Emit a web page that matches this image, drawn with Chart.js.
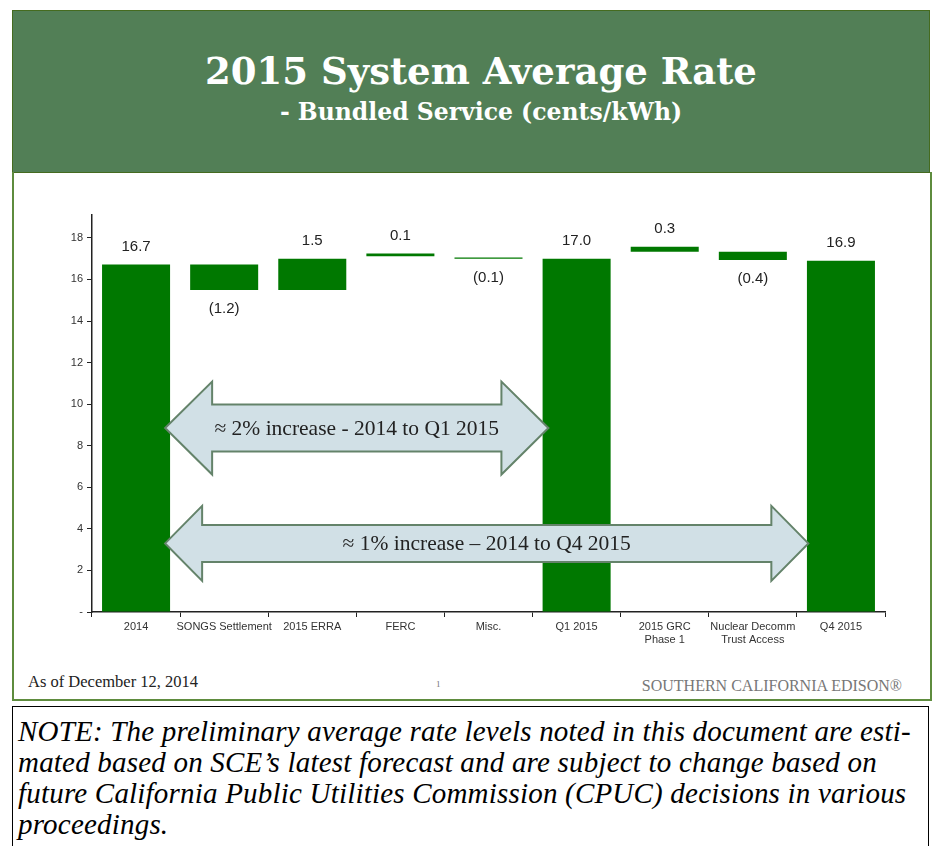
<!DOCTYPE html>
<html>
<head>
<meta charset="utf-8">
<script src="https://cdn.jsdelivr.net/npm/chart.js@4/dist/chart.umd.min.js"></script>
<style>
  body { margin: 0; width: 936px; height: 846px; background: #fff; position: relative; overflow: hidden; }
  #header { position: absolute; left: 12px; top: 10px; width: 916px; height: 161px; background: #527f56;
            border: 1px solid #456b1f; color: #fff; text-align: center; font-family: "DejaVu Serif", serif; font-weight: bold; }
  #title { position: absolute; left: 20px; right: 0; top: 38px; font-size: 37px; }
  #subtitle { position: absolute; left: 20px; right: 0; top: 87px; font-size: 23.5px; }
  #panel { position: absolute; left: 12px; top: 172px; width: 916px; height: 527px; border: 2px solid #5e8c3e; border-top: none; }
  #chart { position: absolute; left: 40px; top: 200px; }
  #asof { position: absolute; left: 28px; top: 672px; font-family: "Liberation Serif", serif; font-size: 16.5px; color: #222; }
  #page { position: absolute; left: 436px; top: 679px; font-family: "Liberation Serif", serif; font-size: 9px; color: #777; }
  #sce { position: absolute; right: 34px; top: 677px; font-family: "Liberation Serif", serif; font-size: 16px; color: #777; }
  #note { position: absolute; left: 12px; top: 706px; width: 917px; height: 160px; border: 1px solid #000;
          font-family: "Liberation Serif", serif; font-style: italic; font-size: 29px; line-height: 31px; letter-spacing: 0.2px;
          color: #000; padding: 9px 0 0 5px; box-sizing: border-box; white-space: nowrap; }
</style>
</head>
<body>
<div id="header">
  <div id="title">2015 System Average Rate</div>
  <div id="subtitle">- Bundled Service (cents/kWh)</div>
</div>
<div id="panel"></div>
<canvas id="chart" width="870" height="460"></canvas>
<div id="asof">As of December 12, 2014</div>
<div id="page">1</div>
<div id="sce">SOUTHERN CALIFORNIA EDISON®</div>
<div id="note">NOTE: The preliminary average rate levels noted in this document are esti-<br>mated based on SCE’s latest forecast and are subject to change based on<br>future California Public Utilities Commission (CPUC) decisions in various<br>proceedings.</div>

<script>
  // Chart data
  const categories = ['2014', 'SONGS Settlement', '2015 ERRA', 'FERC', 'Misc.', 'Q1 2015',
                      ['2015 GRC', 'Phase 1'], ['Nuclear Decomm', 'Trust Access'], 'Q4 2015'];
  const barLow  = [0, 15.49, 15.49, 17.12, 16.99, 0, 17.33, 16.93, 0];
  const barHigh = [16.72, 16.72, 17.0, 17.25, 17.05, 17.0, 17.57, 17.33, 16.9];
  const valueLabels = ['16.7', '(1.2)', '1.5', '0.1', '(0.1)', '17.0', '0.3', '(0.4)', '16.9'];
  const labelBelow = [false, true, false, false, true, false, false, true, false];

  // Arrow annotations (category index from/to, y value of centre)
  const arrowText = ['\u2248 2% increase - 2014 to Q1 2015', '\u2248 1% increase \u2013 2014 to Q4 2015'];
  const arrowFrom = [0.33, 0.33];
  const arrowTo = [4.68, 7.63];
  const arrowY = [8.85, 3.3];

  const arrowStyle = [
    { shaft: 23.5, head: 46.5, headLen: 47 },
    { shaft: 18.5, head: 37.5, headLen: 37 }
  ];

  const labelsPlugin = {
    id: 'labels',
    afterDatasetsDraw(chart) {
      const ctx = chart.ctx;
      const meta = chart.getDatasetMeta(0);
      ctx.save();
      ctx.font = '15px "Liberation Sans", Arial, sans-serif';
      ctx.fillStyle = '#222';
      ctx.textAlign = 'center';
      ctx.textBaseline = 'middle';
      meta.data.forEach((bar, i) => {
        const p = bar.getProps(['x', 'y', 'base'], true);
        const top = Math.min(p.y, p.base);
        const bottom = Math.max(p.y, p.base);
        const ty = labelBelow[i] ? bottom + 19 : top - 18;
        ctx.fillText(valueLabels[i], p.x, ty);
      });

      // double arrows
      const xs = chart.scales.x, ys = chart.scales.y;
      arrowText.forEach((txt, i) => {
        const x0 = xs.getPixelForValue(arrowFrom[i]);
        const x1 = xs.getPixelForValue(arrowTo[i]);
        const cy = ys.getPixelForValue(arrowY[i]);
        const s = arrowStyle[i];
        ctx.beginPath();
        ctx.moveTo(x0, cy);
        ctx.lineTo(x0 + s.headLen, cy - s.head);
        ctx.lineTo(x0 + s.headLen, cy - s.shaft);
        ctx.lineTo(x1 - s.headLen, cy - s.shaft);
        ctx.lineTo(x1 - s.headLen, cy - s.head);
        ctx.lineTo(x1, cy);
        ctx.lineTo(x1 - s.headLen, cy + s.head);
        ctx.lineTo(x1 - s.headLen, cy + s.shaft);
        ctx.lineTo(x0 + s.headLen, cy + s.shaft);
        ctx.lineTo(x0 + s.headLen, cy + s.head);
        ctx.closePath();
        ctx.fillStyle = '#d1e0e6';
        ctx.fill();
        ctx.strokeStyle = '#64836a';
        ctx.lineWidth = 2;
        ctx.stroke();
        ctx.fillStyle = '#222';
        ctx.font = '21.5px "Liberation Serif", serif';
        ctx.fillText(txt, (x0 + x1) / 2, cy + 1);
      });
      ctx.restore();
    }
  };

  const ctx = document.getElementById('chart').getContext('2d');
  const rateChart = new Chart(ctx, {
    type: 'bar',
    data: {
      labels: categories,
      datasets: [{
        data: barLow.map((lo, i) => [lo, barHigh[i]]),
        backgroundColor: '#007800',
        borderWidth: 0,
        barPercentage: 0.772,
        categoryPercentage: 1
      }]
    },
    options: {
      responsive: false,
      animation: false,
      devicePixelRatio: 1,
      layout: { padding: { left: 0, right: 25, top: 15, bottom: 0 } },
      plugins: { legend: { display: false }, tooltip: { enabled: false } },
      scales: {
        x: {
          grid: { display: true, drawOnChartArea: false, drawTicks: true, tickLength: 5, color: '#222', offset: true },
          border: { display: true, color: '#222', width: 1.5 },
          ticks: { color: '#333', font: { family: '"Liberation Sans", Arial', size: 11 }, padding: 3, maxRotation: 0, autoSkip: false },
          afterFit(scale) { scale.height = 48; }
        },
        y: {
          min: 0,
          max: 19.1,
          grid: { display: true, drawOnChartArea: false, drawTicks: true, tickLength: 5, color: '#222' },
          border: { display: true, color: '#222', width: 1.5 },
          ticks: {
            stepSize: 2,
            color: '#333',
            font: { family: '"Liberation Sans", Arial', size: 11 },
            padding: 4,
            callback: v => (v === 0 ? '-' : v)
          },
          afterBuildTicks(scale) { scale.ticks = scale.ticks.filter(t => t.value % 2 === 0); },
          afterFit(scale) { scale.width = 52; }
        }
      }
    },
    plugins: [labelsPlugin]
  });
</script>
</body>
</html>
